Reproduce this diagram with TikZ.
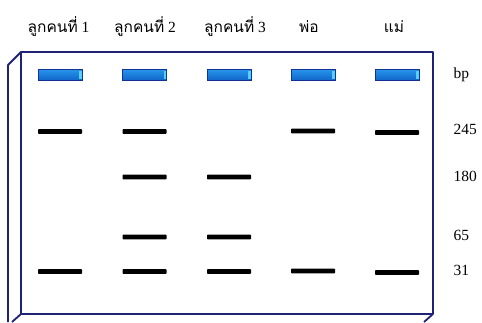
\documentclass[tikz,border=0pt]{standalone}
\usepackage{fontspec}
\setmainfont{Liberation Serif}
\newfontfamily\thaifont[Script=Thai]{Loma}
\begin{document}
\begin{tikzpicture}[x=1pt,y=-1pt,
  gelline/.style={draw={rgb,255:red,30;green,35;blue,120},line width=1.8pt,line join=round},
  well/.style={draw={rgb,255:red,20;green,50;blue,150},line width=0.7pt,top color={rgb,255:red,40;green,150;blue,235},bottom color={rgb,255:red,15;green,100;blue,200}},
  wellend/.style={fill={rgb,255:red,80;green,210;blue,250}},
  dnaband/.style={draw=none,fill=black,rounded corners=0.6pt},
  lanelabel/.style={font=\fontsize{15.5}{18}\selectfont,anchor=base},
  sizelabel/.style={font=\fontsize{15.5}{18}\selectfont,anchor=west}]
\useasboundingbox (0,0) rectangle (482,322);
% gel box
\coordinate (tl) at (21,52);
\coordinate (tr) at (433,52);
\coordinate (br) at (433,314);
\coordinate (bl) at (21,314);
\coordinate (stl) at (8,65);
\coordinate (sbl) at (8,322);
\coordinate (sbb) at (12,322);
\coordinate (rbb) at (424,322);
\draw[gelline] (tl) -- (tr) -- (br) -- (bl) -- cycle;
\draw[gelline] (tl) -- (stl) -- (sbl);
\draw[gelline] (bl) -- (sbb);
\draw[gelline] (br) -- (rbb);
% wells
\foreach \n/\x in {1/60,2/144.5,3/229,4/313,5/397}{
  \draw[well] (\x-22,69) rectangle (\x+22,80.5);
  \fill[wellend] (\x+19,70.5) rectangle (\x+21.5,79);
}
% labels
\node[lanelabel] (l1) at (58.5,32) {{\thaifont ลูกคนที่}~1};
\node[lanelabel] (l2) at (145,32) {{\thaifont ลูกคนที่}~2};
\node[lanelabel] (l3) at (235,32) {{\thaifont ลูกคนที่}~3};
\node[lanelabel] (l4) at (309,32) {\thaifont พ่อ};
\node[lanelabel] (l5) at (394,32) {\thaifont แม่};
% size labels
\node[sizelabel] (bp) at (450,75) {bp};
\node[sizelabel] (s245) at (450,129) {245};
\node[sizelabel] (s180) at (450,176) {180};
\node[sizelabel] (s65) at (450,235) {65};
\node[sizelabel] (s31) at (450,270) {31};
% DNA bands
\foreach \x/\y in {60/131.5,60/271.5,
                   144.5/131.5,144.5/177,144.5/237,144.5/271.5,
                   229/177,229/237,229/271.5,
                   313/131,313/271,
                   397/132.5,397/272.5}{
  \fill[dnaband] (\x-22,\y-2.3) rectangle (\x+22,\y+2.3);
}
\end{tikzpicture}
\end{document}
